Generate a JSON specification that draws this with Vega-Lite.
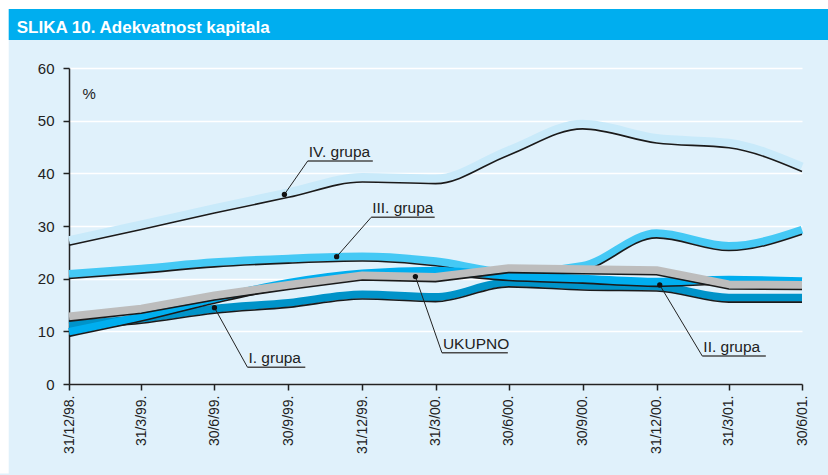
{
  "$schema": "https://vega.github.io/schema/vega-lite/v6.json",
  "width": 733,
  "height": 316,
  "autosize": {"type": "none"},
  "padding": {"left": 69, "top": 68, "right": 26, "bottom": 91},
  "background": "#e0f1fb",
  "config": {
    "view": {"stroke": null},
    "font": "Liberation Sans",
    "axisX": {"labelAngle": -90, "labelFont": "Liberation Sans", "labelFontSize": 14, "labelColor": "#222222", "labelPadding": 5, "labelOverlap": false, "labelBound": false, "labelFlush": false, "tickSize": 6, "tickColor": "#222222", "tickWidth": 1.5, "domainColor": "#222222", "domainWidth": 1.5, "grid": false},
    "axisY": {"grid": true, "gridColor": "#ffffff", "gridWidth": 1.5, "labelFont": "Liberation Sans", "labelFontSize": 15, "labelColor": "#222222", "labelPadding": 9, "tickSize": 6, "tickColor": "#222222", "tickWidth": 1.5, "domainColor": "#222222", "domainWidth": 1.5, "titleAngle": 0, "titleX": 13, "titleY": 30, "titleAlign": "left", "titleBaseline": "alphabetic", "titleFont": "Liberation Sans", "titleFontWeight": "normal", "titleFontSize": 15, "titleColor": "#222222"}
  },
  "datasets": {
    "frame": [
      {"part": "top", "date": "1998-08-01T00:00", "date2": "2001-10-01T00:00", "value": 71.2, "value2": 73},
      {"part": "left", "date": "1998-08-01T00:00", "date2": "1998-10-17T00:00", "value": -17, "value2": 73},
      {"part": "bar", "date": "1998-10-17T00:00", "date2": "2001-10-01T00:00", "value": 65.3, "value2": 71.2}
    ],
    "heading": [
      {"text": "SLIKA 10. Adekvatnost kapitala", "date": "1998-10-27T00:00", "value": 66.71}
    ],
    "series": [
      {"group": "IV. grupa", "date": "1998-12-31T00:00", "value": 27.3},
      {"group": "IV. grupa", "date": "1999-03-31T00:00", "value": 30.3},
      {"group": "IV. grupa", "date": "1999-06-30T00:00", "value": 33.4},
      {"group": "IV. grupa", "date": "1999-09-30T00:00", "value": 36.4},
      {"group": "IV. grupa", "date": "1999-12-31T00:00", "value": 39.3},
      {"group": "IV. grupa", "date": "2000-03-31T00:00", "value": 39.0},
      {"group": "IV. grupa", "date": "2000-06-30T00:00", "value": 44.4},
      {"group": "IV. grupa", "date": "2000-09-30T00:00", "value": 49.4},
      {"group": "IV. grupa", "date": "2000-12-31T00:00", "value": 46.7},
      {"group": "IV. grupa", "date": "2001-03-31T00:00", "value": 45.8},
      {"group": "IV. grupa", "date": "2001-06-30T00:00", "value": 41.3},
      {"group": "III. grupa", "date": "1998-12-31T00:00", "value": 20.9},
      {"group": "III. grupa", "date": "1999-03-31T00:00", "value": 21.9},
      {"group": "III. grupa", "date": "1999-06-30T00:00", "value": 23.1},
      {"group": "III. grupa", "date": "1999-09-30T00:00", "value": 23.8},
      {"group": "III. grupa", "date": "1999-12-31T00:00", "value": 24.2},
      {"group": "III. grupa", "date": "2000-03-31T00:00", "value": 23.3},
      {"group": "III. grupa", "date": "2000-06-30T00:00", "value": 21.2},
      {"group": "III. grupa", "date": "2000-09-30T00:00", "value": 22.4},
      {"group": "III. grupa", "date": "2000-12-31T00:00", "value": 28.6},
      {"group": "III. grupa", "date": "2001-03-31T00:00", "value": 26.2},
      {"group": "III. grupa", "date": "2001-06-30T00:00", "value": 29.3},
      {"group": "I. grupa", "date": "1998-12-31T00:00", "value": 11.3},
      {"group": "I. grupa", "date": "1999-03-31T00:00", "value": 12.4},
      {"group": "I. grupa", "date": "1999-06-30T00:00", "value": 14.3},
      {"group": "I. grupa", "date": "1999-09-30T00:00", "value": 15.4},
      {"group": "I. grupa", "date": "1999-12-31T00:00", "value": 17.0},
      {"group": "I. grupa", "date": "2000-03-31T00:00", "value": 16.5},
      {"group": "I. grupa", "date": "2000-06-30T00:00", "value": 19.3},
      {"group": "I. grupa", "date": "2000-09-30T00:00", "value": 18.7},
      {"group": "I. grupa", "date": "2000-12-31T00:00", "value": 18.5},
      {"group": "I. grupa", "date": "2001-03-31T00:00", "value": 16.4},
      {"group": "I. grupa", "date": "2001-06-30T00:00", "value": 16.4},
      {"group": "II. grupa", "date": "1998-12-31T00:00", "value": 9.9},
      {"group": "II. grupa", "date": "1999-03-31T00:00", "value": 12.8},
      {"group": "II. grupa", "date": "1999-06-30T00:00", "value": 16.2},
      {"group": "II. grupa", "date": "1999-09-30T00:00", "value": 19.2},
      {"group": "II. grupa", "date": "1999-12-31T00:00", "value": 21.0},
      {"group": "II. grupa", "date": "2000-03-31T00:00", "value": 21.5},
      {"group": "II. grupa", "date": "2000-06-30T00:00", "value": 20.5},
      {"group": "II. grupa", "date": "2000-09-30T00:00", "value": 20.0},
      {"group": "II. grupa", "date": "2000-12-31T00:00", "value": 19.4},
      {"group": "II. grupa", "date": "2001-03-31T00:00", "value": 19.8},
      {"group": "II. grupa", "date": "2001-06-30T00:00", "value": 19.5},
      {"group": "UKUPNO", "date": "1998-12-31T00:00", "value": 12.8},
      {"group": "UKUPNO", "date": "1999-03-31T00:00", "value": 14.3},
      {"group": "UKUPNO", "date": "1999-06-30T00:00", "value": 16.8},
      {"group": "UKUPNO", "date": "1999-09-30T00:00", "value": 18.8},
      {"group": "UKUPNO", "date": "1999-12-31T00:00", "value": 20.6},
      {"group": "UKUPNO", "date": "2000-03-31T00:00", "value": 20.3},
      {"group": "UKUPNO", "date": "2000-06-30T00:00", "value": 22.0},
      {"group": "UKUPNO", "date": "2000-09-30T00:00", "value": 21.8},
      {"group": "UKUPNO", "date": "2000-12-31T00:00", "value": 21.6},
      {"group": "UKUPNO", "date": "2001-03-31T00:00", "value": 18.9},
      {"group": "UKUPNO", "date": "2001-06-30T00:00", "value": 18.8}
    ],
    "notes": [
      {"label": "IV. grupa", "date": "1999-10-24T00:00", "date2": "2000-01-13T00:00", "value": 42.34, "dotdate": "1999-09-25T00:00", "dotvalue": 36.0},
      {"label": "III. grupa", "date": "2000-01-11T00:00", "date2": "2000-03-30T00:00", "value": 31.65, "dotdate": "1999-11-29T00:00", "dotvalue": 24.17},
      {"label": "UKUPNO", "date": "2000-04-08T00:00", "date2": "2000-06-29T00:00", "value": 5.94, "dotdate": "2000-03-06T00:00", "dotvalue": 20.4},
      {"label": "I. grupa", "date": "1999-08-10T00:00", "date2": "1999-10-21T00:00", "value": 3.2, "dotdate": "1999-06-30T00:00", "dotvalue": 14.5},
      {"label": "II. grupa", "date": "2001-02-26T00:00", "date2": "2001-05-16T00:00", "value": 5.3, "dotdate": "2001-01-04T00:00", "dotvalue": 18.8}
    ]
  },
  "layer": [
    {
      "data": {"name": "series"},
      "transform": [{"filter": "datum.group === 'IV. grupa'"}],
      "layer": [
        {
          "mark": {"type": "line", "color": "#c9eafa", "strokeWidth": 8, "interpolate": "monotone", "strokeCap": "butt"},
          "encoding": {
            "x": {"field": "date", "type": "temporal", "scale": {"domain": [{"year": 1998, "month": 12, "date": 31}, {"year": 2001, "month": 6, "date": 30}]},
              "axis": {"values": [{"year": 1998, "month": 12, "date": 31}, {"year": 1999, "month": 3, "date": 31}, {"year": 1999, "month": 6, "date": 30}, {"year": 1999, "month": 9, "date": 30}, {"year": 1999, "month": 12, "date": 31}, {"year": 2000, "month": 3, "date": 31}, {"year": 2000, "month": 6, "date": 30}, {"year": 2000, "month": 9, "date": 30}, {"year": 2000, "month": 12, "date": 31}, {"year": 2001, "month": 3, "date": 31}, {"year": 2001, "month": 6, "date": 30}],
                "format": "%-d/%-m/%y.", "title": null}},
            "y": {"field": "value", "type": "quantitative", "scale": {"domain": [0, 60], "nice": false},
              "axis": {"values": [0, 10, 20, 30, 40, 50, 60], "title": "%"}}
          }
        },
        {
          "mark": {"type": "line", "color": "#1a1a1a", "strokeWidth": 1.6, "interpolate": "monotone", "yOffset": 5},
          "encoding": {
            "x": {"field": "date", "type": "temporal"},
            "y": {"field": "value", "type": "quantitative"}
          }
        }
      ]
    },
    {
      "data": {"name": "series"},
      "transform": [{"filter": "datum.group === 'III. grupa'"}],
      "layer": [
        {
          "mark": {"type": "line", "color": "#45c9f5", "strokeWidth": 8, "interpolate": "monotone", "strokeCap": "butt"},
          "encoding": {"x": {"field": "date", "type": "temporal"}, "y": {"field": "value", "type": "quantitative"}}
        },
        {
          "mark": {"type": "line", "color": "#1a1a1a", "strokeWidth": 1.6, "interpolate": "monotone", "yOffset": 4.5},
          "encoding": {"x": {"field": "date", "type": "temporal"}, "y": {"field": "value", "type": "quantitative"}}
        }
      ]
    },
    {
      "data": {"name": "series"},
      "transform": [{"filter": "datum.group === 'I. grupa'"}],
      "layer": [
        {
          "mark": {"type": "line", "color": "#0093c9", "strokeWidth": 8, "interpolate": "monotone", "strokeCap": "butt"},
          "encoding": {"x": {"field": "date", "type": "temporal"}, "y": {"field": "value", "type": "quantitative"}}
        },
        {
          "mark": {"type": "line", "color": "#1a1a1a", "strokeWidth": 1.6, "interpolate": "monotone", "yOffset": 4.5},
          "encoding": {"x": {"field": "date", "type": "temporal"}, "y": {"field": "value", "type": "quantitative"}}
        }
      ]
    },
    {
      "data": {"name": "series"},
      "transform": [{"filter": "datum.group === 'II. grupa'"}],
      "layer": [
        {
          "mark": {"type": "line", "color": "#00aeef", "strokeWidth": 8, "interpolate": "monotone", "strokeCap": "butt"},
          "encoding": {"x": {"field": "date", "type": "temporal"}, "y": {"field": "value", "type": "quantitative"}}
        },
        {
          "mark": {"type": "line", "color": "#1a1a1a", "strokeWidth": 1.6, "interpolate": "monotone", "yOffset": 4.5},
          "encoding": {"x": {"field": "date", "type": "temporal"}, "y": {"field": "value", "type": "quantitative"}}
        }
      ]
    },
    {
      "data": {"name": "series"},
      "transform": [{"filter": "datum.group === 'UKUPNO'"}],
      "layer": [
        {
          "mark": {"type": "line", "color": "#bdbdbd", "strokeWidth": 8, "interpolate": "linear", "strokeCap": "butt", "strokeJoin": "round"},
          "encoding": {"x": {"field": "date", "type": "temporal"}, "y": {"field": "value", "type": "quantitative"}}
        },
        {
          "mark": {"type": "line", "color": "#1a1a1a", "strokeWidth": 1.6, "interpolate": "linear", "yOffset": 4.5},
          "encoding": {"x": {"field": "date", "type": "temporal"}, "y": {"field": "value", "type": "quantitative"}}
        }
      ]
    },
    {
      "data": {"name": "frame"},
      "mark": {"type": "rect", "clip": false},
      "encoding": {
        "x": {"field": "date", "type": "temporal"},
        "x2": {"field": "date2"},
        "y": {"field": "value", "type": "quantitative"},
        "y2": {"field": "value2"},
        "color": {"field": "part", "type": "nominal", "scale": {"domain": ["top", "left", "bar"], "range": ["#ffffff", "#ffffff", "#00aeef"]}, "legend": null}
      }
    },
    {
      "data": {"name": "heading"},
      "mark": {"type": "text", "align": "left", "baseline": "alphabetic", "font": "Liberation Sans", "fontSize": 17, "fontWeight": "bold", "color": "#ffffff"},
      "encoding": {
        "x": {"field": "date", "type": "temporal"},
        "y": {"field": "value", "type": "quantitative"},
        "text": {"field": "text"}
      }
    },
    {
      "data": {"name": "notes"},
      "layer": [
        {
          "mark": {"type": "rule", "color": "#4a4a4a", "strokeWidth": 1.5},
          "encoding": {
            "x": {"field": "date", "type": "temporal"},
            "x2": {"field": "date2"},
            "y": {"field": "value", "type": "quantitative"}
          }
        },
        {
          "mark": {"type": "rule", "color": "#222222", "strokeWidth": 1},
          "encoding": {
            "x": {"field": "date", "type": "temporal"},
            "x2": {"field": "dotdate"},
            "y": {"field": "value", "type": "quantitative"},
            "y2": {"field": "dotvalue"}
          }
        },
        {
          "mark": {"type": "point", "filled": true, "color": "#111111", "size": 28, "opacity": 1},
          "encoding": {
            "x": {"field": "dotdate", "type": "temporal"},
            "y": {"field": "dotvalue", "type": "quantitative"}
          }
        },
        {
          "mark": {"type": "text", "align": "left", "baseline": "alphabetic", "dx": 1, "dy": -4, "font": "Liberation Sans", "fontSize": 15.5, "color": "#222222"},
          "encoding": {
            "x": {"field": "date", "type": "temporal"},
            "y": {"field": "value", "type": "quantitative"},
            "text": {"field": "label"}
          }
        }
      ]
    }
  ]
}
